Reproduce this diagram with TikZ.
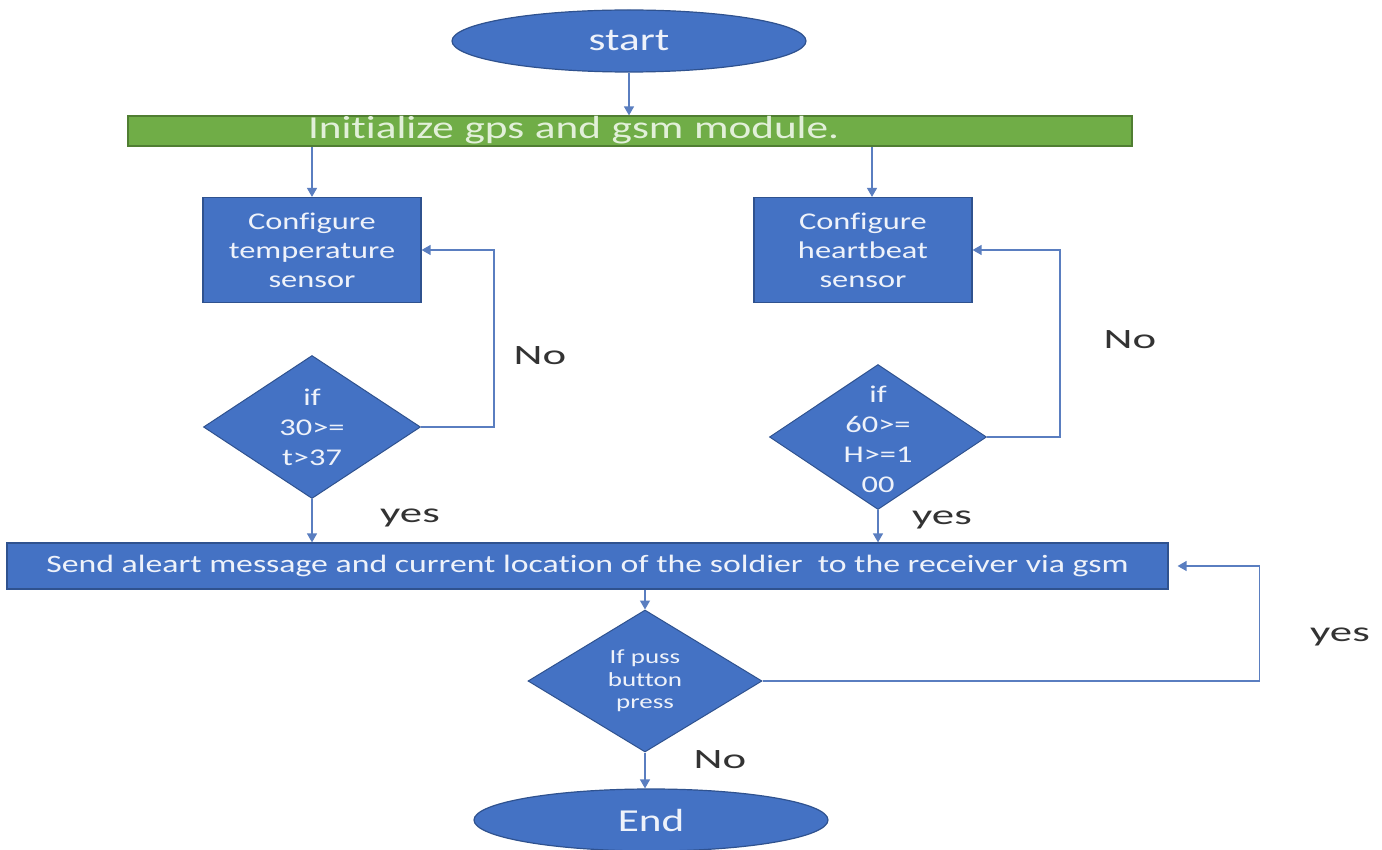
\documentclass[tikz,border=0pt]{standalone}
\usepackage{fontspec}
\setmainfont[FakeStretch=1.35,Ligatures=NoCommon]{Carlito}
\newfontfamily\answerfont[FakeStretch=1.6,Ligatures=NoCommon]{Carlito}
\usepackage{tikz}
\usetikzlibrary{positioning,shapes.geometric,calc}
\usetikzlibrary{arrows.meta}
\definecolor{boxblue}{HTML}{4472C4}
\definecolor{boxedge}{HTML}{2F528F}
\definecolor{barfill}{HTML}{70AD47}
\definecolor{baredge}{HTML}{507E32}
\definecolor{linkblue}{HTML}{5A7EC0}
\definecolor{lighttext}{HTML}{EEF2FA}
\definecolor{bartext}{HTML}{E2F0D9}
\definecolor{labgray}{HTML}{333333}

\begin{document}
\begin{tikzpicture}[
  x = 1pt,
  y = -1pt,
  terminal/.style = {
    draw = boxedge,
    ellipse,
    fill = boxblue,
    line width = 1.2pt,
    minimum width = 354,
    minimum height = 62,
    text = lighttext,
    font = \fontsize{32}{36}\selectfont,
  },
  initbar/.style = {
    draw = baredge,
    fill = barfill,
    line width = 1.2pt,
    minimum width = 1004,
    minimum height = 30,
    inner sep = 0pt,
    text width = 644,
    text height = 22,
    text depth = 6,
    align = left,
    text = bartext,
    font = \fontsize{32}{32}\selectfont,
  },
  process/.style = {
    draw = boxedge,
    fill = boxblue,
    line width = 1.2pt,
    minimum width = 218,
    minimum height = 105,
    align = center,
    text = lighttext,
    font = \fontsize{24}{29}\selectfont,
  },
  sendbox/.style = {
    draw = boxedge,
    fill = boxblue,
    line width = 1.2pt,
    minimum width = 1161,
    minimum height = 46,
    inner sep = 0pt,
    text = lighttext,
    font = \fontsize{25}{25}\selectfont,
  },
  decision/.style = {
    draw = boxedge,
    diamond,
    fill = boxblue,
    line width = 1pt,
    minimum width = 217,
    minimum height = 143,
    inner sep = 0pt,
  },
  dtext/.style = {
    align = center,
    text = lighttext,
    font = \fontsize{24}{30}\selectfont,
  },
  answer/.style = {
    text = labgray,
    font = \answerfont\fontsize{28}{30}\selectfont,
  },
  flow/.style = {
    draw = linkblue,
    line width = 1.3pt,
    -{Triangle[width=10pt,length=9pt]},
  },
]

  \path[fill=white] (0,0) rectangle (1382,850);
  \useasboundingbox (0,0) rectangle (1382,850);

  \node[terminal] (start) at (629,41) {start};
  \node[initbar] (init) at (630,131) {Initialize gps and gsm module.};

  \node[process] (tsens) at (312,250) {Configure\\temperature\\sensor};
  \node[process] (hsens) at (863,250) {Configure\\heartbeat\\sensor};

  \node[decision] (tchk) at (312,427) {};
  \node[dtext] (tchktxt) at (tchk) {if\\30>=\\t>37};
  \node[decision,minimum height=145] (hchk) at (878,437) {};
  \node[dtext] (hchktxt) at ([yshift=-2]hchk) {if\\60>=\\H>=1\\00};

  \node[sendbox] (send) at (587.5,566) {Send aleart message and current location of the soldier~ to the receiver via gsm};

  \node[decision,minimum width=234,minimum height=142] (btn) at (645,681) {};
  \node[dtext,font=\fontsize{20}{22.5}\selectfont] (btntxt) at (btn) {If puss\\button\\press};

  \node[terminal] (stop) at (651,820) {End};

  \node[answer] (tno) at (540,356) {No};
  \node[answer] (hno) at (1130,340) {No};
  \node[answer] (tyes) at (410,518) {yes};
  \node[answer] (hyes) at (942,520) {yes};
  \node[answer] (byes) at (1340,637) {yes};
  \node[answer] (bno) at (720,760) {No};

  \draw[flow] (start.south) -- (start.south |- init.north);
  \draw[flow] (tsens.north |- init.south) -- (tsens.north);
  \draw[flow] ([xshift=9]hsens.north |- init.south) -- ([xshift=9]hsens.north);
  \draw[flow] (tchk.south) -- (tchk.south |- send.north);
  \draw[flow] (hchk.south) -- (hchk.south |- send.north);
  \draw[flow] (btn.north |- send.south) -- (btn.north);
  \draw[flow] (btn.south) -- (btn.south |- stop.north);

  \draw[flow] (tchk.east) -- ++(73,0) |- (tsens.east);
  \draw[flow] (hchk.east) -- ++(73,0) |- (hsens.east);
  \draw[flow] (btn.east) -- ++(497,0) |- ([xshift=9]send.east);

\end{tikzpicture}
\end{document}
